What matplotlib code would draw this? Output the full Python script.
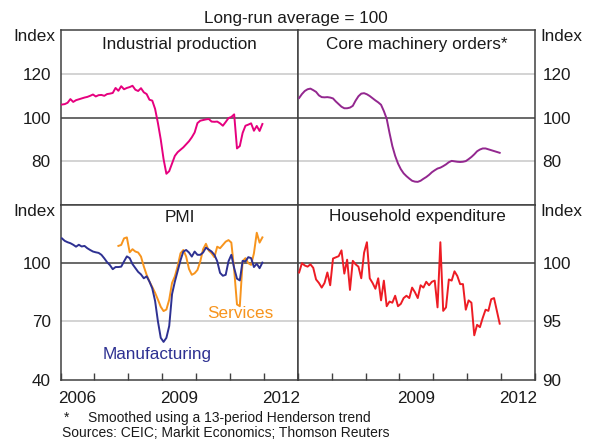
import matplotlib
matplotlib.use("Agg")
import matplotlib.pyplot as plt
import numpy as np

plt.rcParams['font.family'] = ['Liberation Sans', 'DejaVu Sans']

start_year = 2006

# Industrial production (monthly from Jan 2006)
ip = [106.0, 106.2, 106.8, 108.5, 107.2, 108.0, 108.4, 108.8, 109.2, 109.5,
      110.0, 110.6, 109.7, 110.3, 110.4, 110.0, 110.8, 111.0, 111.3, 113.6,
      112.3, 114.4, 113.0, 113.6, 114.0, 114.6, 112.8, 112.2, 113.5, 111.6,
      110.8, 108.2, 107.8, 104.0, 97.5, 90.0, 81.0, 74.3, 75.5, 79.0,
      82.5, 84.2, 85.3, 86.4, 87.8, 89.2, 91.0, 93.2, 97.5, 98.6,
      98.9, 99.2, 99.4, 98.2, 98.1, 98.2, 97.4, 96.3, 98.0, 99.8,
      100.3, 101.5, 85.9, 87.0, 93.0, 96.3, 96.8, 97.4, 94.0, 96.2,
      93.9, 97.1]

# Core machinery orders (monthly from Jan 2006)
machinery = [109.0, 110.8, 112.2, 113.0, 113.3, 112.6, 111.8, 110.2, 109.4, 109.3,
             109.4, 109.2, 108.8, 107.4, 106.2, 105.0, 104.3, 104.3, 104.6, 105.4,
             107.8, 109.8, 111.0, 111.2, 110.7, 109.9, 108.9, 107.9, 107.0, 105.9,
             103.0, 99.5, 93.0, 87.0, 82.5, 79.0, 76.4, 74.5, 73.2, 72.1,
             71.1, 70.7, 70.6, 71.1, 72.0, 72.8, 73.8, 75.0, 75.9, 76.7,
             77.1, 77.8, 78.6, 79.6, 80.2, 80.0, 79.8, 79.7, 79.8, 80.1,
             81.0, 82.0, 83.2, 84.6, 85.4, 85.9, 85.9, 85.5, 85.1, 84.7,
             84.3, 83.9]

# PMI manufacturing (monthly from Jan 2006)
pmi_manuf = [112.8, 111.5, 110.8, 110.3, 109.5, 108.5, 109.5, 108.6, 108.9, 107.7,
             106.8, 106.0, 105.6, 105.3, 104.3, 102.5, 100.5, 99.0, 96.9, 98.0,
             98.0, 98.2, 100.9, 103.5, 102.6, 99.5, 97.5, 95.5, 94.2, 92.2,
             93.2, 90.5, 87.0, 80.5, 70.0, 61.5, 59.4, 61.5, 67.6, 84.0,
             90.5, 96.0, 101.5, 106.0, 106.8, 105.5, 103.4, 106.0, 104.3, 104.3,
             105.5, 108.0, 107.0, 106.0, 104.3, 101.0, 95.0, 93.5, 94.0, 101.0,
             104.3, 97.5, 92.0, 91.1, 101.2, 100.9, 103.1, 102.6, 98.0, 99.7,
             97.4, 100.3]

# PMI services (monthly from Sep 2007)
services_start = 20
pmi_services = [108.9, 109.4, 112.8, 113.3, 105.6, 107.2, 106.0, 105.5, 103.4, 98.3,
                94.0, 90.5, 87.7, 84.7, 81.2, 77.5, 75.3, 76.1, 81.2, 89.8,
                93.2, 98.5, 105.1, 106.8, 103.4, 97.0, 94.0, 94.8, 96.5, 100.9,
                107.2, 110.0, 106.5, 105.1, 103.1, 108.5, 107.7, 109.4, 111.1, 111.9,
                110.6, 96.6, 78.7, 77.8, 101.0, 102.6, 100.0, 99.1, 105.1, 115.7,
                110.6, 113.3]

# Household expenditure (monthly from Jan 2006)
household = [99.2, 100.0, 99.8, 99.7, 99.9, 99.6, 98.6, 98.3, 97.9, 98.3,
             99.2, 98.1, 100.4, 100.5, 100.6, 101.1, 99.1, 100.3, 97.7, 100.2,
             99.9, 99.7, 98.7, 100.9, 101.8, 98.7, 98.3, 97.8, 98.7, 96.8,
             98.5, 96.3, 96.7, 96.6, 97.2, 96.3, 96.5, 97.0, 97.2, 97.0,
             97.9, 97.5, 97.0, 98.1, 97.9, 98.4, 98.1, 98.4, 98.5, 96.2,
             101.8, 95.9, 96.2, 98.6, 98.5, 99.3, 98.9, 98.2, 98.2, 96.0,
             96.8, 96.6, 93.8, 94.7, 94.5, 95.3, 96.0, 95.9, 96.9, 97.0,
             95.9, 94.8]

panel_titles = ["Industrial production", "Core machinery orders*", "PMI", "Household expenditure"]
year_ticks = [2006, 2007, 2008, 2009, 2010, 2011, 2012, 2013]
year_labels_left = [2006, 2009, 2012]
year_labels_right = [2009, 2012]


def months(n, offset=0):
    return start_year + (np.arange(n) + offset + 0.5) / 12.0


W, H = 597, 441
fig = plt.figure(figsize=(W / 100, H / 100), dpi=100)

x0, xm, x1 = 60.5, 297.7, 535.0
yt, ym, yb = 30.3, 205.0, 379.5


def add_ax(left, right, top, bottom):
    return fig.add_axes([left / W, 1 - bottom / H, (right - left) / W, (bottom - top) / H])


ax_ip = add_ax(x0, xm, yt, ym)
ax_mo = add_ax(xm, x1, yt, ym)
ax_pmi = add_ax(x0, xm, ym, yb)
ax_hh = add_ax(xm, x1, ym, yb)

frame_col = '#404040'
grid_col = '#c8c8c8'
fs = 12.3

for ax in (ax_ip, ax_mo, ax_pmi, ax_hh):
    ax.set_xlim(2006, 2013)
    for s in ax.spines.values():
        s.set_color(frame_col)
        s.set_linewidth(1.1)
    ax.set_facecolor('white')

# ylims and gridlines
ax_ip.set_ylim(60, 140)
ax_mo.set_ylim(60, 140)
ax_pmi.set_ylim(40, 130)
ax_hh.set_ylim(90, 105)

for ax, lights in ((ax_ip, [80, 120]), (ax_mo, [80, 120]), (ax_pmi, [70]), (ax_hh, [95])):
    for v in lights:
        ax.axhline(v, color=grid_col, lw=1.1, zorder=1)
    ax.axhline(100, color=frame_col, lw=1.1, zorder=1)

# series
ax_ip.plot(months(len(ip)), ip, color='#e6007e', lw=1.4, zorder=3)
ax_mo.plot(months(len(machinery)), machinery, color='#93278f', lw=1.4, zorder=3)
ax_pmi.plot(months(len(pmi_services), services_start), pmi_services, color='#f7941d', lw=1.4, zorder=3)
ax_pmi.plot(months(len(pmi_manuf)), pmi_manuf, color='#2e3192', lw=1.4, zorder=4)
ax_hh.plot(months(len(household)), household, color='#ed1c24', lw=1.4, zorder=3)

# y ticks
ax_ip.set_yticks([80, 100, 120])
ax_mo.set_yticks([80, 100, 120])
ax_pmi.set_yticks([40, 70, 100])
ax_hh.set_yticks([90, 95, 100])

for ax in (ax_ip, ax_pmi):
    ax.yaxis.tick_left()
    ax.tick_params(axis='y', length=0, pad=7, labelsize=fs, labelcolor='#1a1a1a')
for ax in (ax_mo, ax_hh):
    ax.yaxis.tick_right()
    ax.tick_params(axis='y', length=0, pad=5.5, labelsize=fs, labelcolor='#1a1a1a')

# x ticks
for ax in (ax_ip, ax_mo):
    ax.set_xticks([])
for ax, labs in ((ax_pmi, year_labels_left), (ax_hh, year_labels_right)):
    ax.set_xticks(year_ticks)
    ax.set_xticklabels([])
    ax.tick_params(axis='x', which='major', direction='in', length=5, width=1.0, color=frame_col)
    ax.set_xticks([y + 0.5 for y in labs], minor=True)
    ax.set_xticklabels([str(y) for y in labs], minor=True)
    ax.tick_params(axis='x', which='minor', length=0, pad=8, labelsize=fs, labelcolor='#1a1a1a')


def ftext(x, y, s, **kw):
    fig.text(x / W, 1 - y / H, s, **kw)


# Index labels
for y in (yt, ym):
    ftext(55, y - 1, "Index", ha='right', va='top', fontsize=fs, color='#1a1a1a')
    ftext(540.5, y - 1, "Index", ha='left', va='top', fontsize=fs, color='#1a1a1a')

# Panel titles
ftext(179.5, 45, panel_titles[0], ha='center', va='center', fontsize=fs, color='#1a1a1a')
ftext(417, 45, panel_titles[1], ha='center', va='center', fontsize=fs, color='#1a1a1a')
ftext(179.5, 218, panel_titles[2], ha='center', va='center', fontsize=fs, color='#1a1a1a')
ftext(417, 217, panel_titles[3], ha='center', va='center', fontsize=fs, color='#1a1a1a')

# Subtitle
ftext(296, 18, "Long-run average = 100", ha='center', va='center', fontsize=fs, color='#1a1a1a')

# Series labels
ftext(240, 314, "Services", ha='center', va='center', fontsize=fs, color='#f7941d')
ftext(157.5, 355, "Manufacturing", ha='center', va='center', fontsize=fs, color='#2e3192')

# Footnotes
ftext(64, 418, "*", ha='left', va='center', fontsize=10, color='#1a1a1a')
ftext(88, 418, "Smoothed using a 13-period Henderson trend", ha='left', va='center', fontsize=10, color='#1a1a1a')
ftext(62.5, 433, "Sources: CEIC; Markit Economics; Thomson Reuters", ha='left', va='center', fontsize=10, color='#1a1a1a')

fig.savefig("out.png", dpi=100)
